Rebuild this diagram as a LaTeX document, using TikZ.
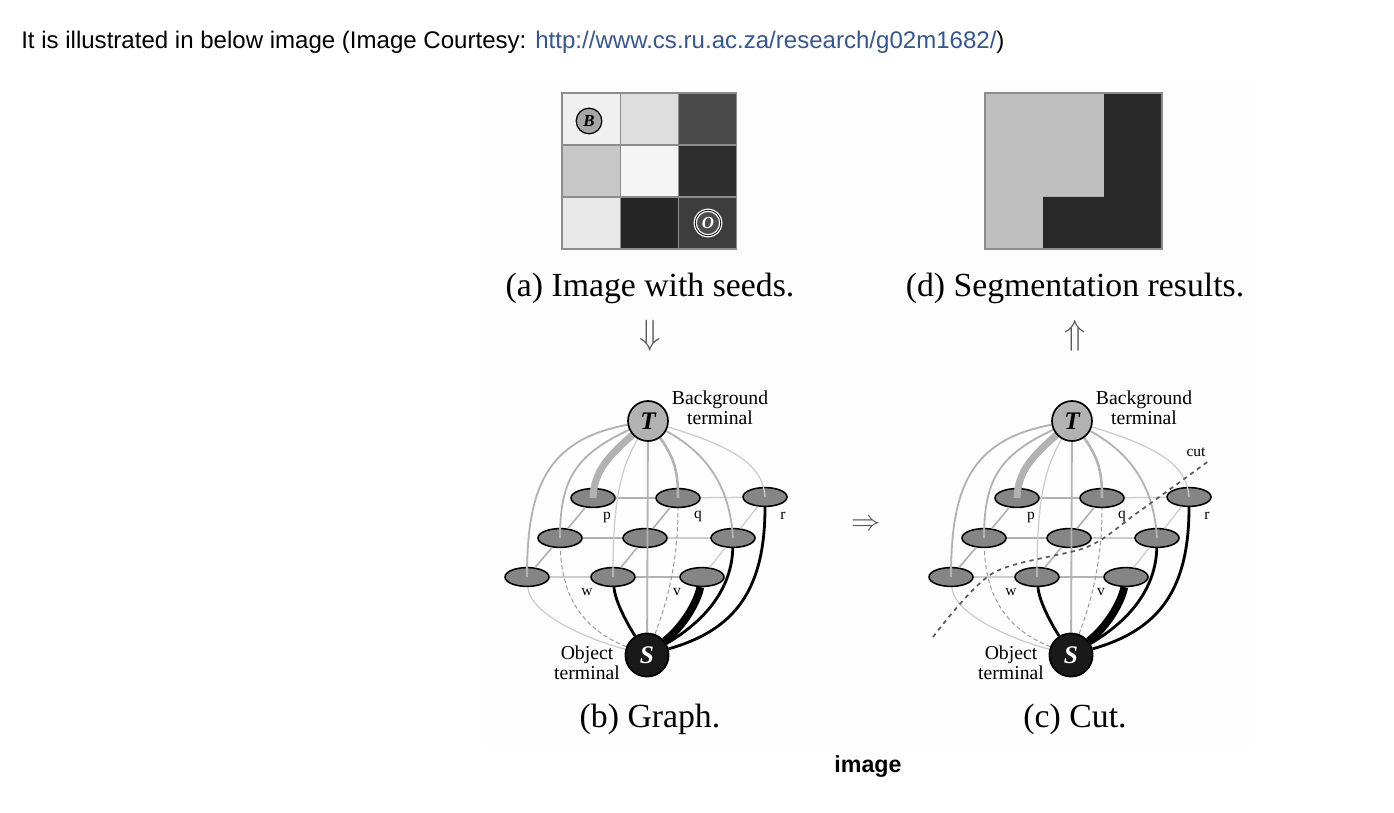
\documentclass[tikz,border=0pt]{standalone}
\usepackage{fontspec}
\setmainfont{Liberation Serif}
\newfontfamily\headfont{Liberation Sans}
\usepackage{xcolor}
\usetikzlibrary{arrows.meta,positioning,calc,shapes.geometric}
\definecolor{linkblue}{RGB}{52,86,150}
\definecolor{panelgray}{RGB}{253,253,253}
\pgfdeclarelayer{wire}
\pgfdeclarelayer{top}
\pgfsetlayers{main,wire,top}

\begin{document}
\begin{tikzpicture}[
  x=0.025cm, y=-0.025cm,
  headtext/.style={font=\headfont\fontsize{17.1}{20}\selectfont, inner sep=0pt},
  caption/.style={font=\fontsize{24}{27}\selectfont, inner sep=0pt, anchor=base},
  bigarrow/.style={font=\fontsize{25}{25}\selectfont, text=black!65, inner sep=0pt},
  cellline/.style={draw=black!45, line width=0.8pt},
  seed/.style={circle, draw, line width=0.9pt, minimum size=0.64cm, inner sep=0pt, font=\fontsize{12}{12}\selectfont\bfseries\itshape},
  tnode/.style={circle, draw, line width=1.2pt, fill=black!30, minimum size=1.0cm, inner sep=0pt, font=\fontsize{18}{18}\selectfont\bfseries\itshape},
  snode/.style={circle, draw, line width=1.2pt, fill=black!90, text=white, minimum size=1.08cm, inner sep=0pt, font=\fontsize{18}{18}\selectfont\bfseries\itshape},
  pixnode/.style={ellipse, draw, line width=1.1pt, fill=black!48, minimum width=1.1cm, minimum height=0.47cm, inner sep=0pt},
  lbl/.style={font=\fontsize{11}{11}\selectfont, inner sep=0pt},
  termtext/.style={font=\fontsize{14}{14}\selectfont, align=center, inner sep=0pt},
  gridedge/.style={black!30, line width=1.2pt},
  faint/.style={black!20, line width=0.9pt},
  tedge/.style={black!30, line width=1.3pt},
  tthick/.style={black!30, line width=5pt},
  sthin/.style={black!40, line width=0.7pt, densely dashed},
  sedge/.style={black, line width=2pt},
  sthick/.style={black, line width=5.5pt},
  cutline/.style={black!65, line width=1.2pt, dashed}
]
\useasboundingbox (0,0) rectangle (1394,813);

% page text
\node[headtext, anchor=base west] (head) at (21,49)
  {It is illustrated in below image (Image Courtesy: \textcolor{linkblue}{http://www.cs.ru.ac.za/research/g02m1682/})};
\node[headtext, font=\headfont\bfseries\fontsize{16.5}{18}\selectfont, anchor=base] (imglabel) at (868,772) {image};

\fill[panelgray] (487,80) rectangle (1250,745);

% (a) image with seeds
\foreach \cx/\cy/\shade in {0/0/6, 1/0/13, 2/0/71, 0/1/22, 1/1/4, 2/1/82, 0/2/9, 1/2/85, 2/2/76}
  \filldraw[cellline, fill=black!\shade] ({562+58.3*\cx},{93+52*\cy}) rectangle ++(58.3,52);
\node[seed, fill=black!35] (seedB) at (589,121) {B};
\node[seed, fill=black!70, draw=white!85, double=black, double distance=0.6pt, text=white] (seedO) at (708,223) {O};

% (d) segmentation
\filldraw[cellline, fill=black!25] (985,93) rectangle (1162,249);
\fill[black!84] (1104,93) -- (1162,93) -- (1162,249) -- (1043,249) -- (1043,197) -- (1104,197) -- cycle;
\draw[cellline] (985,93) rectangle (1162,249);

\node[caption] (capa) at (650,296) {(a) Image with seeds.};
\node[caption] (capd) at (1075,296) {(d) Segmentation results.};
\node[bigarrow] (arrdown) at (650,336) {$\Downarrow$};
\node[bigarrow] (arrup) at (1075,336) {$\Uparrow$};
\node[bigarrow, font=\fontsize{22}{22}\selectfont] (arrright) at (866,525) {$\Rightarrow$};
\node[caption] (capb) at (650,727) {(b) Graph.};
\node[caption] (capc) at (1075,727) {(c) Cut.};

% graphs (b) and (c)
\foreach \g/\dx in {b/0, c/424} {
  \node[pixnode] (\g11) at ({\dx+593},498) {};
  \node[pixnode] (\g12) at ({\dx+678},498) {};
  \node[pixnode] (\g13) at ({\dx+765},497) {};
  \node[pixnode] (\g21) at ({\dx+560},538) {};
  \node[pixnode] (\g22) at ({\dx+645},538) {};
  \node[pixnode] (\g23) at ({\dx+733},538) {};
  \node[pixnode] (\g31) at ({\dx+527},577) {};
  \node[pixnode] (\g32) at ({\dx+613},577) {};
  \node[pixnode] (\g33) at ({\dx+702},577) {};
  \begin{pgfonlayer}{top}
    \node[tnode] (T\g) at ({\dx+648},421) {T};
    \node[snode] (S\g) at ({\dx+647},655) {S};
  \end{pgfonlayer}
  \node[lbl] (lp\g) at ({\dx+607},517) {p};
  \node[lbl] (lq\g) at ({\dx+698},516) {q};
  \node[lbl] (lr\g) at ({\dx+783},516) {r};
  \node[lbl] (lw\g) at ({\dx+587},592) {w};
  \node[lbl] (lv\g) at ({\dx+677},592) {v};
  \node[termtext] (bg\g) at ({\dx+720},408) {Background\\terminal};
  \node[termtext] (ob\g) at ({\dx+587},663) {Object\\terminal};

  \begin{pgfonlayer}{wire}
    % neighbourhood links
    \draw[gridedge] (\g11) -- (\g12);
    \draw[faint] (\g12) -- (\g13);
    \draw[gridedge] (\g21) -- (\g22);
    \draw[faint] (\g22) -- (\g23);
    \draw[faint] (\g31) -- (\g32);
    \draw[gridedge] (\g32) -- (\g33);
    \draw[gridedge] (\g11) -- (\g21) -- (\g31);
    \draw[gridedge] (\g12) -- (\g22) -- (\g32);
    \draw[faint] (\g13) -- (\g23) -- (\g33);
    % t-links
    \draw[tedge] (T\g) .. controls ({\dx+545},440) and ({\dx+527},490) .. (\g31.center);
    \draw[tedge] (T\g) .. controls ({\dx+575},455) and ({\dx+560},480) .. (\g21.center);
    \draw[tthick] (T\g) .. controls ({\dx+610},455) and ({\dx+594},470) .. (\g11.center);
    \draw[faint] (T\g) .. controls ({\dx+620},470) and ({\dx+613},500) .. (\g32.center);
    \draw[tedge] (T\g) -- (S\g);
    \draw[tedge, line width=1.8pt] (T\g) .. controls ({\dx+676},460) and ({\dx+678},475) .. (\g12.center);
    \draw[tedge] (T\g) .. controls ({\dx+710},455) and ({\dx+730},490) .. (\g23.center);
    \draw[faint] (T\g) .. controls ({\dx+745},450) and ({\dx+763},470) .. (\g13.center);
    % s-links
    \draw[faint] (S\g) .. controls ({\dx+590},640) and ({\dx+530},615) .. (\g31);
    \draw[sthin] (S\g) .. controls ({\dx+585},630) and ({\dx+562},600) .. (\g21);
    \draw[sthin] (S\g) .. controls ({\dx+668},600) and ({\dx+678},560) .. (\g12);
    \draw[sedge] (S\g) .. controls ({\dx+625},620) and ({\dx+615},600) .. (\g32);
    \draw[sthick] (S\g) .. controls ({\dx+685},625) and ({\dx+698},600) .. (\g33);
    \draw[sedge] (S\g) .. controls ({\dx+715},615) and ({\dx+732},580) .. (\g23);
    \draw[sedge] (S\g) .. controls ({\dx+735},630) and ({\dx+765},590) .. (\g13);
  \end{pgfonlayer}
}

% the cut
\begin{pgfonlayer}{top}
  \draw[cutline] plot[smooth] coordinates {(933,637) (993,573) (1087,547) (1137,513) (1210,460)};
\end{pgfonlayer}
\node[lbl] (cutlbl) at (1196,452) {cut};
\end{tikzpicture}
\end{document}
